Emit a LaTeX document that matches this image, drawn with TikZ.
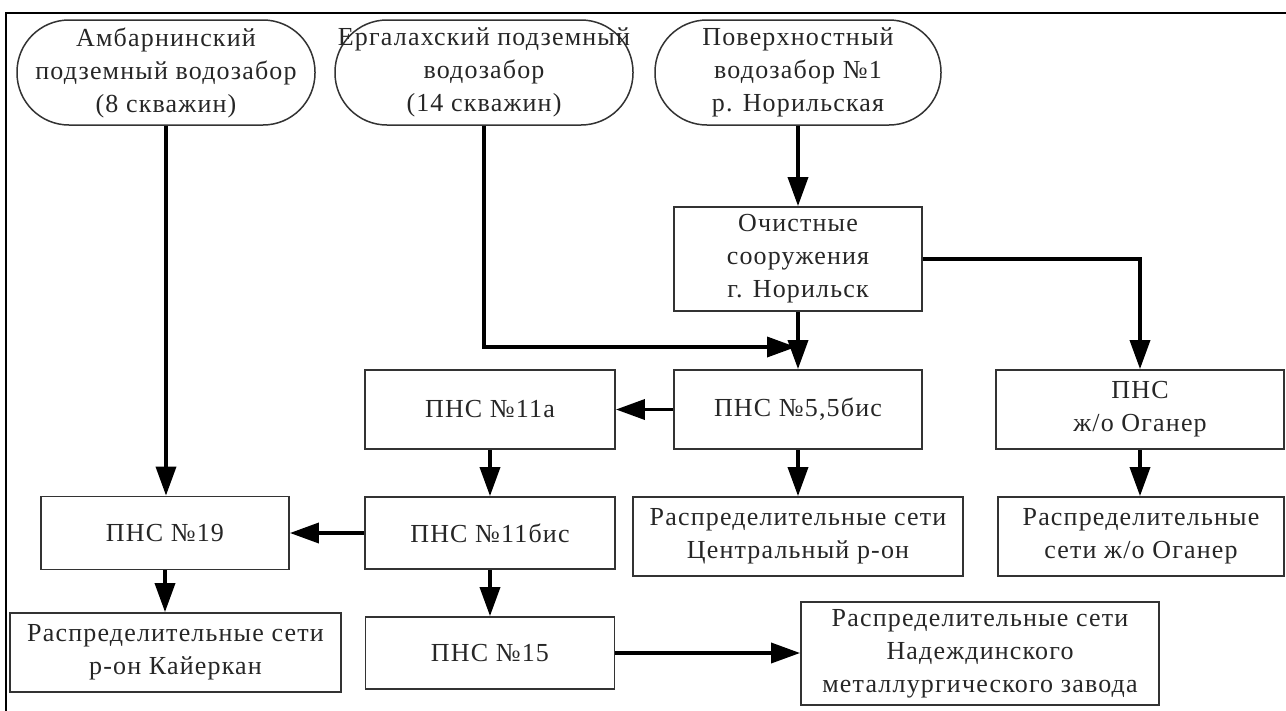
\documentclass[tikz,border=0pt]{standalone}
\usepackage{fontspec}
\setmainfont{Liberation Serif}[LetterSpace=4.5]
\usetikzlibrary{arrows.meta,calc}
\begin{document}
\begin{tikzpicture}[x=1pt,y=-1pt,
  every node/.style={font=\fontsize{26}{33}\selectfont, text=black!85, align=center, inner sep=0pt},
  sz/.style 2 args={minimum width=#1pt, minimum height=#2pt},
  box/.style={draw=black!80, line width=1.8pt, rectangle},
  src/.style={draw=black!80, line width=1.5pt, rectangle, rounded corners=52pt},
  arr/.style={line width=3.6pt, -{Triangle[length=29pt,width=20pt]}},
]
\useasboundingbox (0,0) rectangle (1286,710);
% frame
\draw[line width=2.5pt] (1290,13) -- (6,13) -- (6,714);

% water intakes
\node[src, sz={298}{105}] (amb) at (166,72.5) {Амбарнинский\\подземный водозабор\\(8 скважин)};
\node[src, sz={298}{105}] (erg) at (484,72.5) {Ергалахский подземный\\водозабор\\(14 скважин)};
\node[src, sz={286}{105}] (pov) at (798,72.5) {Поверхностный\\водозабор №1\\р. Норильская};

% treatment plant
\node[box, sz={248}{104}] (och) at (798,259) {Очистные\\сооружения\\г. Норильск};

% pumping stations
\node[box, sz={250}{79}] (p11a) at (490,409.5) {ПНС №11а};
\node[box, sz={248}{79}] (p5) at (798,409.5) {ПНС №5,5бис};
\node[box, sz={288}{79}] (pog) at (1140,409.5) {ПНС\\ж/о Оганер};
\node[box, sz={248}{73}] (p19) at (165,533) {ПНС №19};
\node[box, sz={250}{72}] (p11b) at (490,533) {ПНС №11бис};
\node[box, sz={249}{72}] (p15) at (490,653) {ПНС №15};

% distribution networks
\node[box, sz={330}{79}] (rc) at (798,536.5) {Распределительные сети\\Центральный р-он};
\node[box, sz={286}{79}] (rog) at (1141,536.5) {Распределительные\\сети ж/о Оганер};
\node[box, sz={331}{79}] (rk) at (175.5,652.5) {Распределительные сети\\р-он Кайеркан};
\node[box, sz={358}{103}] (rn) at (980,653.5) {Распределительные сети\\Надеждинского\\металлургического завода};

% flows
\coordinate (mrg) at (796,347);
\draw[arr] (amb.south) -- (amb.south |- p19.north);
\draw[arr] (erg.south) |- (mrg);
\draw[arr] (pov.south) -- (och.north);
\draw[arr] (och.south) -- (p5.north);
\draw[arr] (och.east) -| (pog.north);
\draw[arr] (p5.west) -- (p11a.east);
\draw[arr] (p11a.south) -- (p11b.north);
\draw[arr] (p11b.west) -- (p11b.west -| p19.east);
\draw[arr] (p19.south) -- (p19.south |- rk.north);
\draw[arr] (p11b.south) -- (p11b.south |- p15.north);
\draw[arr] (p5.south) -- (p5.south |- rc.north);
\draw[arr] (pog.south) -- (pog.south |- rog.north);
\draw[arr] (p15.east) -- (p15.east -| rn.west);
\end{tikzpicture}
\end{document}
